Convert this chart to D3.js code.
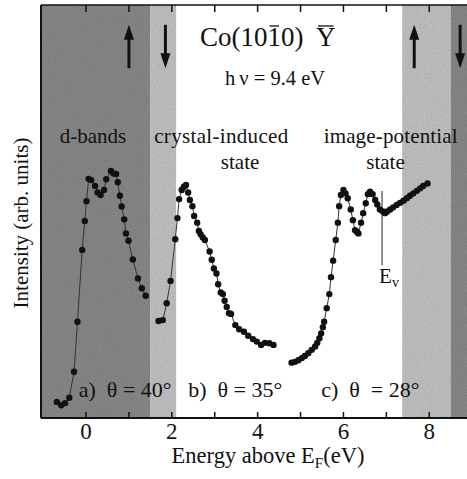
<!DOCTYPE html>
<html>
<head>
<meta charset="utf-8">
<script src="https://cdn.jsdelivr.net/npm/d3@7"></script>
<style>
  body { margin: 0; background: #fff; }
  svg { display: block; }
  text { font-family: "Liberation Serif", "Times New Roman", serif; fill: #111; }
</style>
</head>
<body>
<svg id="chart" width="467" height="479"></svg>
<script>
// spectra: [energy above E_F (eV), intensity (arb. units)]
const curveA = [
  [-0.68, 3.9], [-0.58, 3.1], [-0.49, 3.6], [-0.39, 4.9], [-0.28, 11.2], [-0.20, 23.3],
  [-0.09, 40.7], [-0.03, 47.7], [0.01, 52.5], [0.06, 57.9], [0.12, 57.6], [0.21, 56.2],
  [0.27, 54.6], [0.34, 54.0], [0.42, 55.2], [0.47, 57.8], [0.58, 59.8], [0.64, 59.2],
  [0.70, 59.1], [0.74, 57.1], [0.79, 53.8], [0.83, 51.2], [0.89, 48.1], [0.93, 44.7],
  [0.99, 42.9], [1.09, 38.4], [1.21, 33.8], [1.30, 31.4], [1.39, 29.6]
];
const curveB = [
  [1.69, 23.5], [1.79, 23.7], [1.88, 27.8], [1.97, 33.2], [2.08, 43.3], [2.13, 48.4],
  [2.17, 53.0], [2.23, 55.2], [2.28, 56.0], [2.33, 56.4], [2.38, 54.6], [2.42, 52.8],
  [2.48, 51.3], [2.52, 48.9], [2.59, 47.3], [2.63, 45.3], [2.67, 44.5], [2.72, 43.7],
  [2.77, 43.1], [2.88, 40.3], [2.93, 38.3], [2.98, 36.2], [3.04, 35.0], [3.08, 32.4],
  [3.14, 30.4], [3.19, 30.0], [3.23, 28.4], [3.28, 26.9], [3.33, 25.4], [3.38, 25.2],
  [3.48, 22.5], [3.57, 21.5], [3.68, 20.9], [3.78, 19.9], [3.89, 19.1], [3.98, 18.5],
  [4.08, 17.7], [4.17, 18.2], [4.27, 18.1], [4.37, 17.7]
];
const curveC = [
  [4.79, 13.4], [4.87, 13.6], [4.95, 14.0], [5.03, 14.5], [5.10, 15.0], [5.18, 15.7],
  [5.26, 16.5], [5.34, 17.3], [5.39, 18.2], [5.44, 19.3], [5.48, 20.5], [5.52, 22.0],
  [5.55, 23.3], [5.61, 26.6], [5.67, 30.0], [5.71, 34.1], [5.76, 38.1], [5.82, 43.1],
  [5.87, 47.3], [5.90, 51.3], [5.94, 54.0], [6.00, 55.2], [6.05, 54.4], [6.10, 53.2],
  [6.17, 50.5], [6.22, 47.9], [6.27, 45.5], [6.31, 45.1], [6.35, 44.7], [6.41, 47.3],
  [6.46, 49.6], [6.52, 52.0], [6.57, 54.2], [6.62, 54.8], [6.68, 54.2], [6.74, 52.8],
  [6.79, 51.7], [6.85, 50.5], [6.92, 50.0], [6.97, 49.6], [7.02, 50.0], [7.09, 50.5],
  [7.16, 51.0], [7.24, 51.6], [7.32, 52.1], [7.40, 52.6], [7.48, 53.2], [7.55, 53.8],
  [7.63, 54.4], [7.71, 55.0], [7.79, 55.6], [7.86, 56.2], [7.96, 56.8]
];

// shaded energy ranges [from, to, shade]
const bands = [
  [-1.05, 1.5, "dark"], [1.5, 2.1, "light"], [7.37, 8.5, "light"], [8.5, 9.0, "dark"]
];
// spin arrows (energy positions)
const arrowsUp = [1.0, 7.65];
const arrowsDown = [1.85, 8.72];
const xTicks = [0, 1, 2, 3, 4, 5, 6, 7, 8];
const xTickLabels = [0, 2, 4, 6, 8];
const evacuum = 6.9;

const svg = d3.select("#chart");
const plotLeft = 41, plotTop = 5, plotBottom = 418;

const x = d3.scaleLinear().domain([-1.05, 9.0]).range([plotLeft, plotLeft + 10.05 * 42.9]);
const y = d3.scaleLinear().domain([0, 100]).range([plotBottom, plotTop]);

const shade = { dark: "#8e8e8e", light: "#c9c9c9" };

// grain for the shaded bands
const defs = svg.append("defs");
const filt = defs.append("filter").attr("id", "grain");
filt.append("feTurbulence").attr("type", "fractalNoise").attr("baseFrequency", 0.9).attr("numOctaves", 2).attr("result", "n");
filt.append("feColorMatrix").attr("in", "n").attr("type", "matrix")
  .attr("values", "0 0 0 0 0  0 0 0 0 0  0 0 0 0 0  0 0 0 0.35 0").attr("result", "a");
filt.append("feComposite").attr("in", "a").attr("in2", "SourceGraphic").attr("operator", "in").attr("result", "g");
const mrg = filt.append("feMerge");
mrg.append("feMergeNode").attr("in", "SourceGraphic");
mrg.append("feMergeNode").attr("in", "g");

svg.append("g").selectAll("rect")
  .data(bands)
  .enter().append("rect")
  .attr("x", d => x(d[0]))
  .attr("width", d => x(d[1]) - x(d[0]))
  .attr("y", y(100))
  .attr("height", y(0) - y(100))
  .attr("fill", d => shade[d[2]])
  .attr("filter", "url(#grain)");

// frame
svg.append("line").attr("x1", plotLeft).attr("x2", 467).attr("y1", plotBottom).attr("y2", plotBottom)
  .attr("stroke", "#111").attr("stroke-width", 2);
svg.append("line").attr("x1", plotLeft).attr("x2", 467).attr("y1", plotTop).attr("y2", plotTop)
  .attr("stroke", "#111").attr("stroke-width", 1.5);
svg.append("line").attr("x1", plotLeft).attr("x2", plotLeft).attr("y1", plotTop).attr("y2", plotBottom)
  .attr("stroke", "#111").attr("stroke-width", 2);

// ticks, inward on bottom and top
const ticks = svg.append("g").attr("stroke", "#111").attr("stroke-width", 1.5);
ticks.selectAll(".tb").data(xTicks).enter().append("line")
  .attr("x1", d => x(d)).attr("x2", d => x(d)).attr("y1", plotBottom).attr("y2", plotBottom - 6);
ticks.selectAll(".tt").data(xTicks).enter().append("line")
  .attr("x1", d => x(d)).attr("x2", d => x(d)).attr("y1", plotTop).attr("y2", plotTop + 7);

svg.append("g").selectAll("text").data(xTickLabels).enter().append("text")
  .attr("x", d => x(d)).attr("y", 439)
  .attr("text-anchor", "middle").attr("font-size", 23)
  .text(d => d);

// axis titles
const xt = svg.append("text").attr("x", 268).attr("y", 463).attr("text-anchor", "middle").attr("font-size", 22.5);
xt.append("tspan").text("Energy above E");
xt.append("tspan").attr("font-size", 15).attr("dy", 5).text("F");
xt.append("tspan").attr("dy", -5).text("(eV)");

svg.append("text")
  .attr("transform", "translate(28,223) rotate(-90)")
  .attr("text-anchor", "middle").attr("font-size", 21)
  .text("Intensity (arb. units)");

// spin arrows
function arrow(e, up) {
  const g = svg.append("g").attr("fill", "#111").attr("stroke", "#111");
  const yTop = y(95.2), yBot = y(84.7), xc = x(e);
  if (up) {
    g.append("line").attr("x1", xc).attr("x2", xc).attr("y1", yTop + 12).attr("y2", yBot).attr("stroke-width", 3);
    g.append("path").attr("stroke", "none").attr("d", `M${xc},${yTop} L${xc - 5},${yTop + 15} L${xc + 5},${yTop + 15} Z`);
  } else {
    g.append("line").attr("x1", xc).attr("x2", xc).attr("y1", yTop).attr("y2", yBot - 12).attr("stroke-width", 3);
    g.append("path").attr("stroke", "none").attr("d", `M${xc},${yBot} L${xc - 5},${yBot - 15} L${xc + 5},${yBot - 15} Z`);
  }
}
arrowsUp.forEach(e => arrow(e, true));
arrowsDown.forEach(e => arrow(e, false));

// title with overbars
const title = svg.append("text").attr("x", 200).attr("y", 46).attr("font-size", 27)
  .attr("xml:space", "preserve").text("Co(1010)  Y");
[5, 10].forEach(i => {
  const b = title.node().getExtentOfChar(i);
  svg.append("line")
    .attr("x1", b.x + 2).attr("x2", b.x + b.width - 2)
    .attr("y1", b.y + 4).attr("y2", b.y + 4)
    .attr("stroke", "#111").attr("stroke-width", 1.3);
});
svg.append("text").attr("x", 225).attr("y", 85).attr("font-size", 20.5)
  .attr("xml:space", "preserve").text("h\u2009\u03bd = 9.4 eV");

// region labels
const labels = [
  [0.16, 66.6, "d-bands"],
  [3.15, 66.6, "crystal-induced"],
  [3.59, 60.4, "state"],
  [7.1, 66.6, "image-potential"],
  [6.98, 60.4, "state"]
];
svg.append("g").selectAll("text").data(labels).enter().append("text")
  .attr("x", d => x(d[0])).attr("y", d => y(d[1]))
  .attr("text-anchor", "middle").attr("font-size", 21)
  .attr("textLength", d => d[2] === "crystal-induced" ? 134 : d[2] === "image-potential" ? 134 : null)
  .text(d => d[2]);

const angles = [[-0.17, "a)  \u03b8 = 40\u00b0"], [2.38, "b)  \u03b8 = 35\u00b0"], [5.48, "c)  \u03b8  = 28\u00b0"]];
svg.append("g").selectAll("text").data(angles).enter().append("text")
  .attr("x", d => x(d[0])).attr("y", 397).attr("font-size", 22)
  .attr("xml:space", "preserve")
  .text(d => d[1]);

// vacuum level marker
svg.append("line").attr("x1", x(evacuum)).attr("x2", x(evacuum))
  .attr("y1", y(55)).attr("y2", y(37)).attr("stroke", "#222").attr("stroke-width", 1);
const ev = svg.append("text").attr("x", x(evacuum) - 3).attr("y", 283).attr("font-size", 21);
ev.append("tspan").text("E");
ev.append("tspan").attr("font-size", 14).attr("dy", 4).text("v");

// spectra
const line = d3.line().x(d => x(d[0])).y(d => y(d[1]));
[curveA, curveB, curveC].forEach(c => {
  svg.append("path").datum(c).attr("d", line)
    .attr("fill", "none").attr("stroke", "#333").attr("stroke-width", 1);
  svg.append("g").selectAll("circle").data(c).enter().append("circle")
    .attr("cx", d => x(d[0])).attr("cy", d => y(d[1])).attr("r", 3.2).attr("fill", "#111");
});
</script>
</body>
</html>
